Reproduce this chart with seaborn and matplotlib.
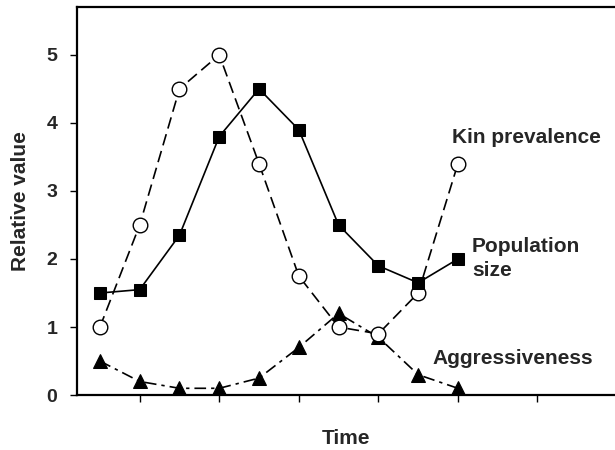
import matplotlib
matplotlib.use("Agg")
import matplotlib.pyplot as plt
import seaborn as sns
import pandas as pd

time = [1, 2, 3, 4, 5, 6, 7, 8, 9, 10]
kin_prevalence = [1.0, 2.5, 4.5, 5.0, 3.4, 1.75, 1.0, 0.9, 1.5, 3.4]
population_size = [1.5, 1.55, 2.35, 3.8, 4.5, 3.9, 2.5, 1.9, 1.65, 2.0]
aggressiveness = [0.5, 0.2, 0.1, 0.1, 0.25, 0.7, 1.2, 0.85, 0.3, 0.1]
x_ticks = [2, 4, 6, 8, 10, 12]
y_ticks = [0, 1, 2, 3, 4, 5]

sns.set_theme(style="ticks")
plt.rcParams['font.family'] = ['Liberation Sans', 'DejaVu Sans']
plt.rcParams['font.weight'] = 'bold'

fig = plt.figure(figsize=(6.15, 4.5), dpi=100)
ax = fig.add_axes([0.125, 0.122, 0.875, 0.862])

df = pd.DataFrame({"time": time, "kin": kin_prevalence,
                   "pop": population_size, "agg": aggressiveness})

sns.lineplot(data=df, x="time", y="agg", ax=ax, color="black", lw=1.2,
             linestyle=(0, (7, 3, 2, 3)), marker="^", markersize=9.5,
             markerfacecolor="black", markeredgecolor="black", zorder=2)
sns.lineplot(data=df, x="time", y="kin", ax=ax, color="black", lw=1.2,
             linestyle=(0, (7, 3.5)), marker="o", markersize=10.5,
             markerfacecolor="white", markeredgecolor="black", markeredgewidth=1.0,
             zorder=3)
sns.lineplot(data=df, x="time", y="pop", ax=ax, color="black", lw=1.2,
             linestyle="-", marker="s", markersize=8.5,
             markerfacecolor="black", markeredgecolor="black", zorder=4)

ax.set_xlim(0.42, 13.95)
ax.set_ylim(0, 5.7)
ax.set_xticks(x_ticks)
ax.set_xticklabels([])
ax.set_yticks(y_ticks)
ax.set_yticklabels([str(v) for v in y_ticks], fontsize=14, fontweight="bold")
ax.tick_params(axis="both", direction="out", length=5, width=1.0, color="black")
ax.tick_params(axis="y", pad=9)

for s in ["left", "bottom", "top"]:
    ax.spines[s].set_linewidth(1.6)
    ax.spines[s].set_color("black")
ax.spines["right"].set_visible(False)

ax.set_xlabel("Time", fontsize=15, fontweight="bold", labelpad=16)
ax.set_ylabel("Relative value", fontsize=15, fontweight="bold", labelpad=12)

ax.text(9.84, 3.78, "Kin prevalence", fontsize=15, fontweight="bold", va="center", ha="left")
ax.text(10.35, 2.01, "Population\nsize", fontsize=15, fontweight="bold", va="center", ha="left",
        linespacing=1.3)
ax.text(9.37, 0.54, "Aggressiveness", fontsize=15, fontweight="bold", va="center", ha="left")

fig.savefig("out.png", dpi=100)
